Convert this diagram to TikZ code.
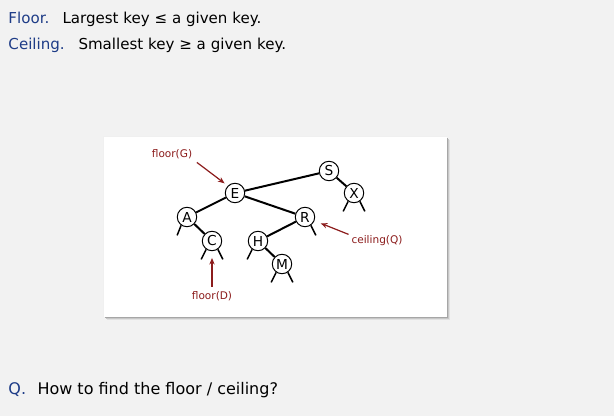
\documentclass[tikz,border=0pt]{standalone}
\usepackage{fontspec}
\setmainfont{DejaVu Sans}
\usetikzlibrary{arrows.meta}

\definecolor{headblue}{RGB}{30,60,135}
\definecolor{ptrred}{RGB}{140,28,28}
\definecolor{pagegray}{RGB}{242,242,242}

\tikzset{every picture/.style={line width=0.75pt}}
\tikzset{
	key/.style={circle,draw,fill=white,minimum size=14.6pt,inner sep=0pt,font=\fontsize{10.3}{11}\selectfont},
	link/.style={line width=1.5pt},
	nullink/.style={line width=1.1pt},
	pointer/.style={ptrred,line width=0.9pt,-{Stealth[length=5pt,width=4pt]}},
	ptrlabel/.style={ptrred,inner sep=0pt,font=\fontsize{7.9}{9}\selectfont},
	line/.style={anchor=base west,inner sep=0pt,font=\fontsize{11.3}{13}\selectfont},
	bigline/.style={anchor=base west,inner sep=0pt,font=\fontsize{12}{14}\selectfont}
}

\begin{document}
\begin{tikzpicture}[x=0.75pt,y=0.75pt,yscale=-1,xscale=1]
		\useasboundingbox (0,0) rectangle (614,416);
		\fill[pagegray] (0,0) rectangle (614,416);
		
		% Text lines
		\node[line,headblue] (floorhd) at (8,24) {Floor.};
		\node[line] (floortx) at (62,24) {Largest key ≤ a given key.};
		\node[line,headblue] (ceilhd) at (8,50) {Ceiling.};
		\node[line] (ceiltx) at (78,50) {Smallest key ≥ a given key.};
		\node[bigline,headblue] (qhd) at (8,395) {Q.};
		\node[bigline] (qtx) at (37,395) {How to find the floor / ceiling?};
		
		% Panel with shadow
		\foreach \s/\c in {4/black!5,3/black!12,2/black!22,1/black!35}
			\fill[\c] (104+\s,137+\s) rectangle (447+\s,317+\s);
		\fill[black!6] (103,136) rectangle (447,317);
		\fill[white] (104,137) rectangle (447,317);
		
		% Keys
		\node[key] (S) at (329,171) {S};
		\node[key] (X) at (354,193) {X};
		\node[key] (E) at (235,193) {E};
		\node[key] (A) at (187,217) {A};
		\node[key] (R) at (305,217) {R};
		\node[key] (C) at (212,241) {C};
		\node[key] (H) at (258,241) {H};
		\node[key] (M) at (282,264) {M};
		
		% Links
		\draw[link] (E) -- (S);
		\draw[link] (S) -- (X);
		\draw[link] (E) -- (A);
		\draw[link] (E) -- (R);
		\draw[link] (A) -- (C);
		\draw[link] (R) -- (H);
		\draw[link] (H) -- (M);
		
		% Null links
		\foreach \n/\a/\dx in {A/235/-4,C/235/-5,C/305/5,H/235/-5,M/235/-5,M/305/5,R/305/5,X/235/-5,X/305/5}
			\draw[nullink] (\n.\a) -- ++(\dx,10);
		
		% Pointer labels
		\node[ptrlabel] (floorG) at (172,154) {floor(G)};
		\node[ptrlabel] (floorD) at (212,296) {floor(D)};
		\node[ptrlabel] (ceilQ) at (377,241) {ceiling(Q)};
		
		\draw[pointer,shorten <=4pt,shorten >=3pt] (floorG.south east) -- (E.135);
		\draw[pointer,shorten <=3pt,shorten >=5pt] (floorD.north) -- (C.south);
		\draw[pointer,shorten <=2pt,shorten >=5pt] (ceilQ.north west) -- (R);
		
\end{tikzpicture}
\end{document}
